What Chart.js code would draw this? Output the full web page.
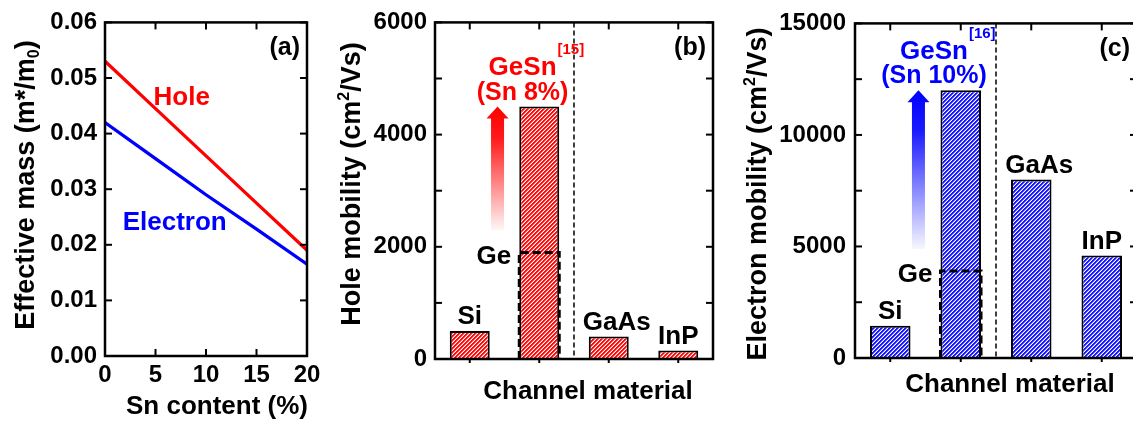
<!DOCTYPE html>
<html>
<head>
<meta charset="utf-8">
<script src="https://cdn.jsdelivr.net/npm/chart.js@4.4.1/dist/chart.umd.min.js"></script>
<style>
  html, body { margin: 0; padding: 0; background: #fff; }
  body { width: 1133px; height: 421px; overflow: hidden; position: relative; }
  canvas { position: absolute; top: 0; }
</style>
</head>
<body>
<canvas id="massChart" width="330" height="421" style="left:0px"></canvas>
<canvas id="holeChart" width="390" height="421" style="left:335px"></canvas>
<canvas id="electronChart" width="400" height="421" style="left:740px"></canvas>
<script>
const FONT = "'Liberation Sans', Arial, sans-serif";

// (a) effective mass vs Sn content
const SN_CONTENT = [0, 5, 10, 15, 20];
const HOLE_MASS = [0.053, 0.0445, 0.036, 0.0275, 0.019];
const ELECTRON_MASS = [0.042, 0.0355, 0.029, 0.0228, 0.0165];

// (b) and (c) mobility per channel material
const MATERIALS = ['Si', 'GeSn', 'GaAs', 'InP'];
const HOLE_MOBILITY = [500, 4500, 400, 150];
const HOLE_MOBILITY_GE = 1900;
const ELECTRON_MOBILITY = [1450, 12000, 8000, 4600];
const ELECTRON_MOBILITY_GE = 3900;

const RED = '#ff0000';
const BLUE = '#0000ff';

function text(ctx, str, x, cy, size, color, align) {
    ctx.font = `bold ${size}px ${FONT}`;
    ctx.fillStyle = color || '#000';
    ctx.textAlign = align || 'center';
    ctx.textBaseline = 'alphabetic';
    ctx.fillText(str, x, cy + size * 0.36);
}

// titulos con sub/superindices, centrados en (cx, cy)
function richText(ctx, parts, cx, cy, size, vertical) {
    ctx.save();
    ctx.translate(cx, cy);
    if (vertical) ctx.rotate(-Math.PI / 2);
    let total = 0;
    parts.forEach(p => {
        ctx.font = `bold ${p.size || size}px ${FONT}`;
        p.w = ctx.measureText(p.t).width;
        total += p.w;
    });
    let px = -total / 2;
    ctx.textAlign = 'left';
    ctx.textBaseline = 'alphabetic';
    ctx.fillStyle = '#000';
    parts.forEach(p => {
        ctx.font = `bold ${p.size || size}px ${FONT}`;
        ctx.fillText(p.t, px, size * 0.36 + (p.dy || 0));
        px += p.w;
    });
    ctx.restore();
}

function drawFrame(ctx, area) {
    ctx.save();
    ctx.strokeStyle = '#000';
    ctx.lineWidth = 2.5;
    ctx.strokeRect(area.left, area.top, area.right - area.left, area.bottom - area.top);
    ctx.restore();
}

function tickLine(ctx, x1, y1, x2, y2) {
    ctx.beginPath();
    ctx.moveTo(x1, y1);
    ctx.lineTo(x2, y2);
    ctx.stroke();
}

// rayado "////" pixel a pixel, blanco sobre el color
function hatch(rgb) {
    const n = 4;
    const c = document.createElement('canvas');
    c.width = c.height = n;
    const g = c.getContext('2d');
    const img = g.createImageData(n, n);
    for (let py = 0; py < n; py++) {
        for (let px = 0; px < n; px++) {
            const k = (py * n + px) * 4;
            const d = (px + py) % n;
            // 3 = blanco, 2 = medio tono, resto color pleno
            const mix = d === 3 ? 1 : d === 2 ? 0.45 : 0;
            img.data[k] = rgb[0] + (255 - rgb[0]) * mix;
            img.data[k + 1] = rgb[1] + (255 - rgb[1]) * mix;
            img.data[k + 2] = rgb[2] + (255 - rgb[2]) * mix;
            img.data[k + 3] = 255;
        }
    }
    g.putImageData(img, 0, 0);
    return g.createPattern(c, 'repeat');
}

const tickFont = { family: FONT, size: 24, weight: 'bold' };

// ---------- (a) ----------
const massPlugin = {
    id: 'massDecor',
    afterDraw(chart) {
        const { ctx, chartArea: area, scales: { x, y } } = chart;
        drawFrame(ctx, area);
        ctx.save();
        ctx.strokeStyle = '#000';
        ctx.lineWidth = 2;
        y.ticks.forEach(t => {
            const py = y.getPixelForValue(t.value);
            tickLine(ctx, area.left, py, area.left + 7, py);
            tickLine(ctx, area.right, py, area.right - 7, py);
        });
        x.ticks.forEach(t => {
            const px = x.getPixelForValue(t.value);
            tickLine(ctx, px, area.bottom, px, area.bottom - 7);
            tickLine(ctx, px, area.top, px, area.top + 7);
        });
        ctx.restore();

        text(ctx, 'Hole', x.getPixelForValue(7.6), y.getPixelForValue(0.0469), 26, RED);
        text(ctx, 'Electron', x.getPixelForValue(6.9), y.getPixelForValue(0.0244), 26, BLUE);
        text(ctx, '(a)', area.right - 7, area.top + 24, 25, '#000', 'right');

        richText(ctx, [{ t: 'Effective mass (m*/m' }, { t: '0', size: 16, dy: 5 }, { t: ')' }], 24, 185, 27, true);
        richText(ctx, [{ t: 'Sn content (%)' }], 217, 405, 26, false);
    }
};

new Chart(document.getElementById('massChart'), {
    type: 'line',
    data: {
        datasets: [
            {
                label: 'Hole',
                data: SN_CONTENT.map((sn, i) => ({ x: sn, y: HOLE_MASS[i] })),
                borderColor: RED,
                borderWidth: 3.3,
                pointRadius: 0,
            },
            {
                label: 'Electron',
                data: SN_CONTENT.map((sn, i) => ({ x: sn, y: ELECTRON_MASS[i] })),
                borderColor: BLUE,
                borderWidth: 3.3,
                pointRadius: 0,
            }
        ]
    },
    options: {
        responsive: false,
        animation: false,
        layout: { padding: { left: 0, right: 23, top: 18, bottom: 0 } },
        plugins: { legend: { display: false }, tooltip: { enabled: false } },
        scales: {
            x: {
                type: 'linear', min: 0, max: 20,
                grid: { display: false, drawTicks: false }, border: { display: false },
                ticks: { stepSize: 5, font: tickFont, color: '#000', padding: 5, maxRotation: 0 },
                afterFit: s => { s.height = 65; }
            },
            y: {
                min: 0, max: 0.06,
                grid: { display: false, drawTicks: false }, border: { display: false },
                ticks: { stepSize: 0.01, font: tickFont, color: '#000', padding: 8, callback: v => v.toFixed(2) },
                afterFit: s => { s.width = 105; }
            }
        }
    },
    plugins: [massPlugin]
});

// ---------- (b) y (c) ----------
function mobilityPlugin(cfg) {
    return {
        id: 'mobilityDecor',
        afterDraw(chart) {
            const { ctx, chartArea: area, scales: { x, y } } = chart;
            const bars = chart.getDatasetMeta(0).data;
            const y0 = y.getPixelForValue(0);

            // caja punteada de Ge sobre la barra de GeSn
            const geBar = bars[1];
            const half = geBar.width / 2;
            const yGe = y.getPixelForValue(cfg.ge);
            ctx.save();
            ctx.strokeStyle = '#000';
            ctx.lineWidth = 3;
            ctx.setLineDash([8, 4]);
            ctx.beginPath();
            ctx.moveTo(geBar.x - half, y0);
            ctx.lineTo(geBar.x - half, yGe);
            ctx.lineTo(geBar.x + half, yGe);
            ctx.lineTo(geBar.x + half, y0);
            ctx.stroke();

            // separador Grupo IV / III-V
            const sepX = x.getPixelForValue(1.5);
            ctx.lineWidth = 1.5;
            ctx.setLineDash([5, 3]);
            tickLine(ctx, sepX, area.top, sepX, area.bottom);
            ctx.restore();

            drawFrame(ctx, area);

            ctx.save();
            ctx.strokeStyle = '#000';
            ctx.lineWidth = 2;
            for (let v = y.min; v <= y.max; v += cfg.minorStep) {
                const py = y.getPixelForValue(v);
                tickLine(ctx, area.left, py, area.left + 7, py);
                tickLine(ctx, area.right, py, area.right - 7, py);
            }
            MATERIALS.forEach((m, i) => {
                const px = x.getPixelForValue(i);
                tickLine(ctx, px, area.top, px, area.top + 7);
                tickLine(ctx, px, area.bottom, px, area.bottom + 4);
            });
            ctx.restore();

            // flecha con degradado Ge -> GeSn
            const ax = x.getPixelForValue(0.4);
            const aTop = y.getPixelForValue(cfg.values[1]);
            const aBottom = yGe - 22;
            const grad = ctx.createLinearGradient(0, aTop, 0, aBottom);
            grad.addColorStop(0, cfg.rgba(1));
            grad.addColorStop(0.25, cfg.rgba(0.9));
            grad.addColorStop(1, cfg.rgba(0.03));
            ctx.save();
            ctx.fillStyle = grad;
            ctx.beginPath();
            ctx.moveTo(ax, aTop);
            ctx.lineTo(ax + 11, aTop + 12);
            ctx.lineTo(ax + 6.5, aTop + 12);
            ctx.lineTo(ax + 6.5, aBottom);
            ctx.lineTo(ax - 6.5, aBottom);
            ctx.lineTo(ax - 6.5, aTop + 12);
            ctx.lineTo(ax - 11, aTop + 12);
            ctx.closePath();
            ctx.fill();
            ctx.restore();

            // textos
            const noteX = x.getPixelForValue(cfg.noteAt);
            text(ctx, 'GeSn', noteX, aTop - 41, 26, cfg.color);
            text(ctx, cfg.note, noteX, aTop - 16, 25, cfg.color);
            ctx.font = `bold 26px ${FONT}`;
            const gw = ctx.measureText('GeSn').width;
            text(ctx, cfg.ref, noteX + gw / 2 + 1, aTop - 58, 15, cfg.color, 'left');

            const shift = [0, 0, 8, 0];
            bars.forEach((bar, i) => {
                if (i === 1) return;
                text(ctx, MATERIALS[i], bar.x + shift[i], bar.y - 16, 26, '#000');
            });
            text(ctx, 'Ge', geBar.x - half - 8, yGe + 2, 26, '#000', 'right');
            text(ctx, cfg.panel, area.right - 7, area.top + 24, 25, '#000', 'right');

            richText(ctx, [{ t: cfg.yTitle + ' (cm' }, { t: '2', size: 16, dy: -11 }, { t: '/Vs)' }], cfg.yTitleX, cfg.yTitleY, 27, true);
            richText(ctx, [{ t: 'Channel material' }], (area.left + area.right) / 2 + 14, cfg.xTitleY, 26, false);
        }
    };
}

function makeMobilityChart(canvasId, cfg) {
    return new Chart(document.getElementById(canvasId), {
        type: 'bar',
        data: {
            labels: MATERIALS,
            datasets: [{
                data: cfg.values,
                backgroundColor: hatch(cfg.rgb),
                borderColor: '#000',
                borderWidth: 2,
                borderSkipped: 'bottom',
                barPercentage: 0.575,
                categoryPercentage: 1,
            }]
        },
        options: {
            responsive: false,
            animation: false,
            layout: { padding: cfg.padding },
            plugins: { legend: { display: false }, tooltip: { enabled: false } },
            scales: {
                x: {
                    grid: { display: false, drawTicks: false }, border: { display: false },
                    ticks: { display: false },
                    afterFit: s => { s.height = cfg.xHeight; }
                },
                y: {
                    min: 0, max: cfg.max,
                    grid: { display: false, drawTicks: false }, border: { display: false },
                    ticks: { stepSize: cfg.step, font: tickFont, color: '#000', padding: cfg.tickPad, callback: v => String(v) },
                    afterFit: s => { s.width = cfg.yWidth; }
                }
            }
        },
        plugins: [mobilityPlugin(cfg)]
    });
}

makeMobilityChart('holeChart', {
    values: HOLE_MOBILITY,
    ge: HOLE_MOBILITY_GE,
    max: 6000, step: 2000, minorStep: 1000,
    color: RED, rgb: [255, 10, 10], rgba: a => `rgba(255,0,0,${a})`,
    note: '(Sn 8%)', ref: '[15]', noteAt: 0.76, panel: '(b)',
    yTitle: 'Hole mobility', yTitleX: 15, yTitleY: 184, xTitleY: 390,
    padding: { left: 0, right: 12, top: 20, bottom: 0 },
    yWidth: 100, xHeight: 62, tickPad: 8
});

makeMobilityChart('electronChart', {
    values: ELECTRON_MOBILITY,
    ge: ELECTRON_MOBILITY_GE,
    max: 15000, step: 5000, minorStep: 2500,
    color: BLUE, rgb: [25, 25, 255], rgba: a => `rgba(0,0,255,${a})`,
    note: '(Sn 10%)', ref: '[16]', noteAt: 0.62, panel: '(c)',
    yTitle: 'Electron mobility', yTitleX: 16, yTitleY: 194, xTitleY: 383,
    padding: { left: 0, right: 3, top: 18, bottom: 0 },
    yWidth: 115, xHeight: 63, tickPad: 9
});
</script>
</body>
</html>
